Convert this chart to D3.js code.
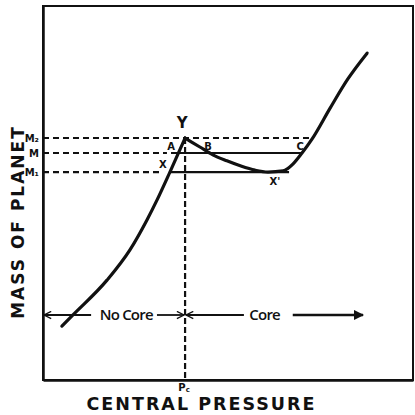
<!DOCTYPE html>
<html><head><meta charset="utf-8">
<script src="https://cdn.jsdelivr.net/npm/d3@7"></script>
<style>body{margin:0;background:#fff}svg{display:block}</style>
</head><body>
<svg id="c" width="415" height="415"></svg>
<script>
// Data (pressure, mass in arbitrary units 0-100)
const noCoreP = [5.1, 8.1, 17.3, 23.5, 28.1, 30.8, 34.3, 38.4];
const noCoreM = [14.4, 17.4, 26.7, 34.8, 42.8, 48.1, 55.6, 64.7];
const coreP = [38.4, 42.4, 45.9, 49.7, 53.5, 57.3, 60.8, 64.9, 67.6, 70.0, 72.7, 77.6, 82.4, 87.6];
const coreM = [64.7, 62.3, 60.2, 58.6, 57.2, 56.1, 55.6, 55.9, 57.8, 60.7, 64.4, 72.7, 80.5, 87.4];
const Pc = 38.4;
const levelNames = ["M₂", "M", "M₁"];
const levelMass = [64.7, 60.7, 55.6];
// where the solid parts of the levels run (left branch crossing -> core branch crossing)
const levelSolidFrom = [null, 34.6, 34.3];
const levelSolidTo = [null, 70.0, 66.5];
const levelDashTo = [73.0, 33.5, 32.4];
const pointNames = ["Y", "A", "B", "C", "X", "X'"];
const pointP = [37.6, 34.6, 44.6, 69.5, 32.4, 62.7];
const pointM = [67.4, 61.4, 61.4, 61.4, 56.8, 52.1];

const svg = d3.select("#c");
const x = d3.scaleLinear([0, 100], [43, 413]);
const y = d3.scaleLinear([0, 100], [380, 6]);
const ink = "#111";

// frame
svg.append("rect").attr("x", x(0)).attr("y", y(100)).attr("width", x(100) - x(0)).attr("height", y(0) - y(100))
  .attr("fill", "none").attr("stroke", ink).attr("stroke-width", 2);

// axes (no ticks) just for the bottom/left lines
svg.append("g").attr("transform", `translate(0,${y(0)})`).call(d3.axisBottom(x).tickValues([]).tickSizeOuter(0))
  .select(".domain").attr("stroke", ink).attr("stroke-width", 2.5);
svg.append("g").attr("transform", `translate(${x(0)},0)`).call(d3.axisLeft(y).tickValues([]).tickSizeOuter(0))
  .select(".domain").attr("stroke", ink).attr("stroke-width", 2.5);

// dashed level lines
levelMass.forEach((m, i) => {
  svg.append("line").attr("x1", x(0)).attr("x2", x(levelDashTo[i])).attr("y1", y(m)).attr("y2", y(m))
    .attr("stroke", ink).attr("stroke-width", 2.2).attr("stroke-dasharray", "6,4");
  if (levelSolidFrom[i] !== null) {
    svg.append("line").attr("x1", x(levelSolidFrom[i])).attr("x2", x(levelSolidTo[i])).attr("y1", y(m)).attr("y2", y(m))
      .attr("stroke", ink).attr("stroke-width", 2.2);
  }
  svg.append("text").attr("x", x(0) - 4).attr("y", y(m) + 4).attr("text-anchor", "end")
    .attr("font-family", "DejaVu Sans").attr("font-weight", "bold").attr("font-size", 10).attr("fill", ink)
    .text(levelNames[i]);
});

// Pc dashed vertical
svg.append("line").attr("x1", x(Pc)).attr("x2", x(Pc)).attr("y1", y(levelMass[0])).attr("y2", y(0))
  .attr("stroke", ink).attr("stroke-width", 2.2).attr("stroke-dasharray", "6,3");

// curves
const lg = d3.line().x(d => x(d[0])).y(d => y(d[1])).curve(d3.curveMonotoneX);
svg.append("path").attr("d", lg(noCoreP.map((p, i) => [p, noCoreM[i]])))
  .attr("fill", "none").attr("stroke", ink).attr("stroke-width", 3.2).attr("stroke-linecap", "round");
svg.append("path").attr("d", lg(coreP.map((p, i) => [p, coreM[i]])))
  .attr("fill", "none").attr("stroke", ink).attr("stroke-width", 3.2).attr("stroke-linecap", "round");

// point labels
pointNames.forEach((n, i) => {
  svg.append("text").attr("x", x(pointP[i])).attr("y", y(pointM[i])).attr("text-anchor", "middle")
    .attr("font-family", "DejaVu Sans").attr("font-weight", "bold")
    .attr("font-size", n === "Y" ? 15 : 10).attr("fill", ink).text(n);
});

// region arrows
const ay = 315;
const defs = svg.append("defs");
defs.append("marker").attr("id", "solid").attr("viewBox", "0 0 10 10").attr("refX", 9).attr("refY", 5)
  .attr("markerWidth", 4).attr("markerHeight", 4).attr("markerUnits", "strokeWidth").attr("orient", "auto")
  .append("path").attr("d", "M0,0L10,5L0,10Z").attr("fill", ink);
defs.append("marker").attr("id", "open").attr("viewBox", "0 0 10 10").attr("refX", 9).attr("refY", 5)
  .attr("markerWidth", 5).attr("markerHeight", 5).attr("markerUnits", "strokeWidth").attr("orient", "auto")
  .append("path").attr("d", "M1,1L9,5L1,9").attr("fill", "none").attr("stroke", ink).attr("stroke-width", 1.5);

function arrow(x1, x2, mk, w) {
  svg.append("line").attr("x1", x1).attr("x2", x2).attr("y1", ay).attr("y2", ay)
    .attr("stroke", ink).attr("stroke-width", w).attr("marker-end", `url(#${mk})`);
}
arrow(x(13), x(0) + 1, "open", 1.8);
arrow(x(30.8), x(Pc) - 1, "open", 1.8);
arrow(x(54.3), x(Pc) + 1, "open", 1.8);
arrow(x(67.5), x(86.5), "solid", 2.6);

svg.append("text").attr("x", x(22.5)).attr("y", ay + 5).attr("text-anchor", "middle")
  .attr("font-family", "Open Sans").attr("font-weight", 600).attr("font-size", 15).attr("letter-spacing", -0.8).attr("fill", ink).text("No Core");
svg.append("text").attr("x", x(59.9)).attr("y", ay + 5).attr("text-anchor", "middle")
  .attr("font-family", "Open Sans").attr("font-weight", 600).attr("font-size", 15).attr("letter-spacing", -0.8).attr("fill", ink).text("Core");

// Pc label
const pcT = svg.append("text").attr("x", x(Pc) - 1).attr("y", y(0) + 11).attr("text-anchor", "middle")
  .attr("font-family", "DejaVu Sans").attr("font-weight", "bold").attr("font-size", 10).attr("fill", ink);
pcT.append("tspan").text("P");
pcT.append("tspan").attr("font-size", 7).attr("dy", 1).text("c");

// axis titles
svg.append("text").attr("x", 201.5).attr("y", 410).attr("text-anchor", "middle")
  .attr("font-family", "DejaVu Sans").attr("font-weight", "bold").attr("font-size", 17.5).attr("letter-spacing", 2)
  .attr("fill", ink).text("CENTRAL PRESSURE");
svg.append("text").attr("transform", "translate(24,222) rotate(-90)").attr("text-anchor", "middle")
  .attr("font-family", "DejaVu Sans").attr("font-weight", "bold").attr("font-size", 17).attr("letter-spacing", 2)
  .attr("fill", ink).text("MASS OF PLANET");
</script>
</body></html>
